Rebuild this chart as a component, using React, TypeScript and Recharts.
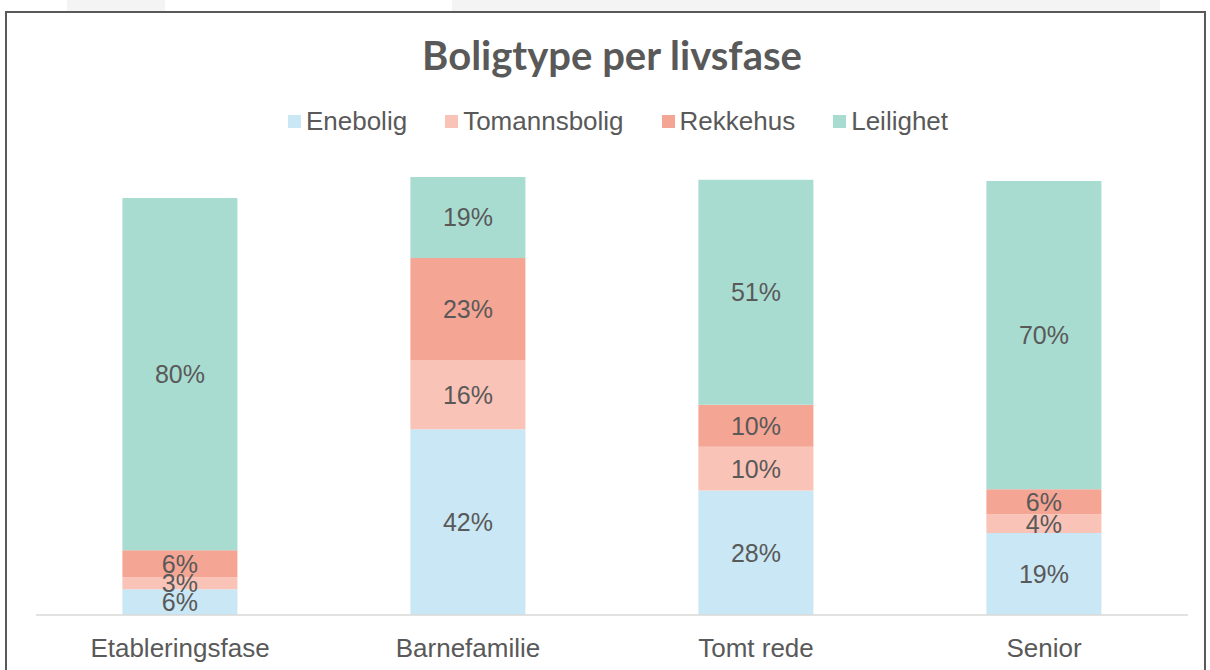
import { BarChart, Bar, XAxis, YAxis, LabelList, Legend } from 'recharts'

const phases = ['Etableringsfase', 'Barnefamilie', 'Tomt rede', 'Senior']
const enebolig = [5.9, 42.4, 28.4, 18.7]
const tomannsbolig = [2.7, 15.8, 10.0, 4.3]
const rekkehus = [6.2, 23.3, 9.6, 5.7]
const leilighet = [80.4, 18.5, 51.4, 70.4]

const series = [
  { key: 'Enebolig', color: '#c9e7f4' },
  { key: 'Tomannsbolig', color: '#f9c3b7' },
  { key: 'Rekkehus', color: '#f5a593' },
  { key: 'Leilighet', color: '#a9dcd1' },
]

const data = phases.map((phase, i) => ({
  phase,
  Enebolig: enebolig[i],
  Tomannsbolig: tomannsbolig[i],
  Rekkehus: rekkehus[i],
  Leilighet: leilighet[i],
}))

const font = '"Liberation Sans", Arial, sans-serif'
const textColor = '#595959'

function LegendContent() {
  return (
    <div style={{ display: 'flex', justifyContent: 'center', gap: 38, fontFamily: font, fontSize: 26, color: textColor }}>
      {series.map((s) => (
        <div key={s.key} style={{ display: 'flex', alignItems: 'center', gap: 5 }}>
          <span style={{ width: 13, height: 13, background: s.color, display: 'inline-block' }} />
          <span>{s.key}</span>
        </div>
      ))}
    </div>
  )
}

export default function App() {
  return (
    <div style={{ position: 'absolute', left: 0, top: 0, width: 1210, height: 670, background: '#fff', overflow: 'hidden' }}>
      <div style={{ position: 'absolute', left: 67, top: 0, width: 98, height: 12, background: '#f4f4f4' }} />
      <div style={{ position: 'absolute', left: 452, top: 0, width: 708, height: 12, background: '#f4f4f4' }} />
      <div
        style={{
          position: 'absolute',
          left: 5,
          top: 11,
          width: 1197,
          height: 700,
          borderTop: '2px solid #595959',
          borderLeft: '2px solid #595959',
          borderRight: '2px solid #595959',
        }}
      />
      <div
        style={{
          position: 'absolute',
          left: 0,
          top: 31,
          width: 1224,
          textAlign: 'center',
          fontFamily: 'Lato, sans-serif',
          fontWeight: 700,
          fontSize: 40,
          color: textColor,
        }}
      >
        Boligtype per livsfase
      </div>
      <div style={{ position: 'absolute', left: 0, top: 0 }}>
        <BarChart
          width={1210}
          height={670}
          data={data}
          margin={{ top: 146, right: 22, bottom: 0, left: 36 }}
          barCategoryGap="30%"
        >
          <XAxis
            dataKey="phase"
            height={55}
            tickLine={false}
            axisLine={{ stroke: '#d9d9d9', strokeWidth: 1.5 }}
            tick={{ fill: textColor, fontSize: 26, fontFamily: font }}
            tickMargin={18}
          />
          <YAxis hide domain={[0, 100]} allowDataOverflow />
          <Legend
            verticalAlign="top"
            content={<LegendContent />}
            wrapperStyle={{ position: 'absolute', top: 106, left: 0, width: 1236 }}
          />
          {series.map((s) => (
            <Bar key={s.key} dataKey={s.key} stackId="a" fill={s.color} isAnimationActive={false}>
              <LabelList
                dataKey={s.key}
                position="center"
                formatter={(v: number) => `${Math.round(v)}%`}
                style={{ fill: textColor, fontSize: 25, fontFamily: font }}
              />
            </Bar>
          ))}
        </BarChart>
      </div>
    </div>
  )
}
